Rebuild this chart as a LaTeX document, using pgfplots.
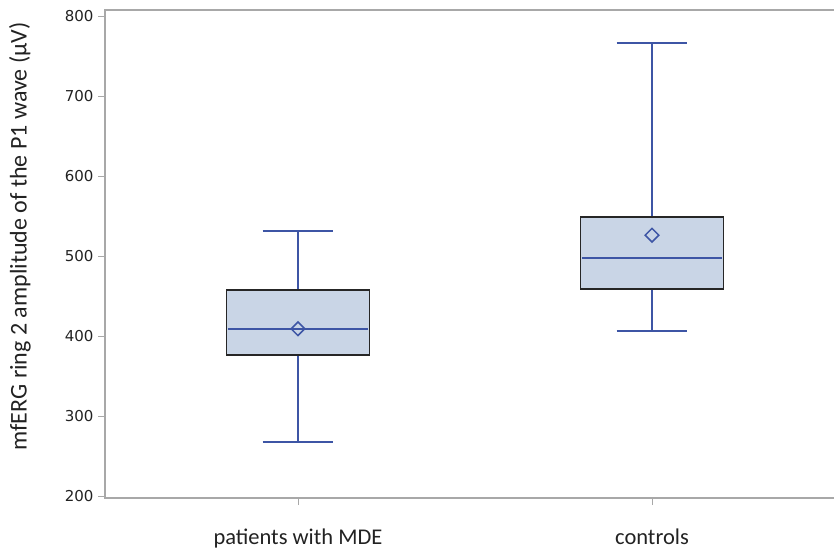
\documentclass[border=0pt]{standalone}
\usepackage{pgfplots}
\pgfplotsset{compat=1.18}
\usepackage{fontspec}
\setmainfont{Carlito}
\newfontfamily\tickfont{DejaVu Sans}
\definecolor{boxfill}{HTML}{C9D5E6}
\definecolor{wblue}{HTML}{3D55A5}
\definecolor{axgray}{HTML}{A8A8A8}
\definecolor{txt}{HTML}{222222}
\begin{document}
\begin{tikzpicture}
\useasboundingbox (0bp,0bp) rectangle (834bp,554bp);
\begin{axis}[
  at={(105bp,56bp)}, anchor=south west,
  scale only axis, width=729bp, height=488bp,
  xmin=0.455, xmax=2.514, ymin=197.5, ymax=807.5,
  axis line style={draw=none},
  ytick={200,300,...,800},
  xtick={1,2}, xticklabels={patients with MDE, controls},
  xtick pos=bottom, ytick pos=left,
  tick align=outside, major tick length=7bp,
  tick style={axgray, line width=0.9bp},
  yticklabel style={font=\fontsize{15bp}{17bp}\tickfont, text=txt, xshift=-1bp},
  /pgf/number format/assume math mode=true,
  xticklabel style={font=\fontsize{22.5bp}{26bp}\selectfont, text=txt, yshift=-20bp},
  ylabel={mfERG ring 2 amplitude of the P1 wave (\textmu V)},
  ylabel style={font=\fontsize{24bp}{27bp}\selectfont, text=txt, at={(axis description cs:-0.1166,0.536)}, anchor=center},
  clip=false,
  whisk/.style={draw=wblue, line width=1.5bp, mark=none},
  boxst/.style={draw=black!85, fill=boxfill, line width=1.5bp, mark=none, line join=miter},
]
% frame: left, top, bottom
\addplot[draw=axgray, line width=1.2bp, mark=none] coordinates {(2.514,807.5) (0.455,807.5) (0.455,197.5) (2.514,197.5)};
% group 1: patients with MDE
\addplot[whisk] coordinates {(1,457.5) (1,531)};
\addplot[whisk] coordinates {(0.9,531) (1.1,531)};
\addplot[whisk] coordinates {(1,376) (1,267.5)};
\addplot[whisk] coordinates {(0.9,267.5) (1.1,267.5)};
\addplot[boxst] coordinates {(0.798,376) (1.202,376) (1.202,457.5) (0.798,457.5)} -- cycle;
\addplot[whisk] coordinates {(0.802,409) (1.198,409)};
% group 2: controls
\addplot[whisk] coordinates {(2,549) (2,766)};
\addplot[whisk] coordinates {(1.9,766) (2.1,766)};
\addplot[whisk] coordinates {(2,459) (2,406)};
\addplot[whisk] coordinates {(1.9,406) (2.1,406)};
\addplot[boxst] coordinates {(1.798,459) (2.202,459) (2.202,549) (1.798,549)} -- cycle;
\addplot[whisk] coordinates {(1.802,497.5) (2.198,497.5)};
% means
\addplot[only marks, mark=square, mark size=4.8bp, mark options={draw=wblue, line width=1.5bp, fill=none, rotate=45}] coordinates {(1,409) (2,526)};
\end{axis}
\end{tikzpicture}
\end{document}
